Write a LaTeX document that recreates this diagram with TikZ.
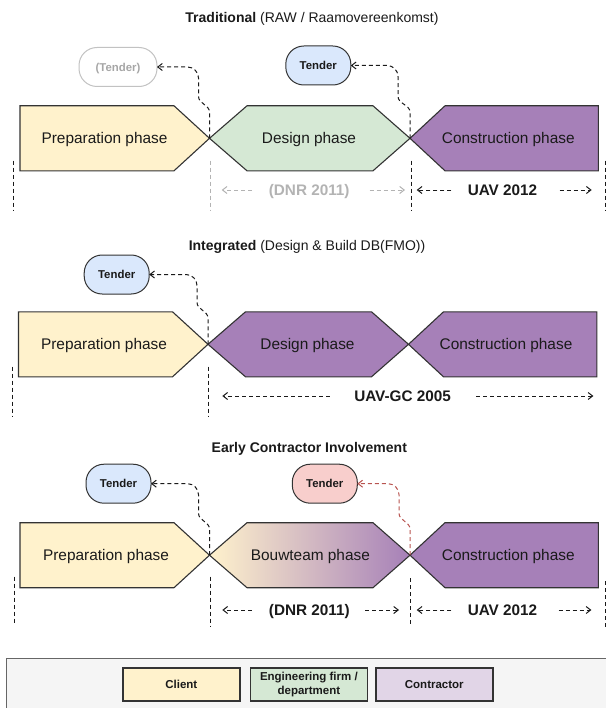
\documentclass[tikz,border=0pt]{standalone}
\usepackage{fontspec}
\setmainfont{Liberation Sans}
\usetikzlibrary{arrows.meta,calc}

\definecolor{clientY}{HTML}{FFF2CC}
\definecolor{engG}{HTML}{D5E8D4}
\definecolor{conP}{HTML}{A680B8}
\definecolor{conL}{HTML}{E1D5E7}
\definecolor{tendB}{HTML}{DAE8FC}
\definecolor{tendR}{HTML}{F8CECC}
\definecolor{edgeC}{HTML}{333333}
\definecolor{inkC}{HTML}{1A1A1A}
\definecolor{fadeC}{HTML}{B3B3B3}
\definecolor{fadeT}{HTML}{A6A6A6}
\definecolor{redL}{HTML}{B85450}
\definecolor{legBg}{HTML}{F5F5F5}
\definecolor{legLn}{HTML}{666666}

\begin{document}
\begin{tikzpicture}[x=1bp, y=-1bp,
  every node/.style={inner sep=0pt, outer sep=0pt},
  phase/.style={draw=edgeC, line width=1.1bp, line join=miter},
  phlabel/.style={font=\fontsize{15.4bp}{18bp}\selectfont, text=inkC, text height=11bp, text depth=0pt},
  heading/.style={font=\fontsize{14bp}{17bp}\selectfont, text=inkC, text height=10bp, text depth=0pt},
  tenderbox/.style={draw=edgeC, line width=1bp, rounded corners=18bp, minimum width=65bp, minimum height=39bp,
    font=\bfseries\fontsize{11.4bp}{13bp}\selectfont, text=inkC, text height=8.2bp, text depth=0pt},
  contract/.style={font=\bfseries\fontsize{15.3bp}{18bp}\selectfont, text=inkC, text height=11bp, text depth=0pt},
  divider/.style={draw=inkC, line width=1bp, dash pattern=on 4bp off 3bp},
  spanarrow/.style={draw=inkC, line width=1bp, dash pattern=on 4bp off 3bp, -{Straight Barb[length=4.5bp,width=7bp]}},
  tenderlink/.style={draw=inkC, line width=1bp, dash pattern=on 4bp off 3bp, -{Straight Barb[length=4.5bp,width=7bp]}},
  legendbox/.style={draw=edgeC, line width=1.4bp, minimum width=117bp, minimum height=33bp,
    font=\bfseries\fontsize{11.5bp}{14.5bp}\selectfont, text=inkC, align=center},
]
\useasboundingbox (0,0) rectangle (606,708);
\clip (0,0) rectangle (606,708);

% ---------------- Traditional ----------------
\node[heading] (h1) at (312,17.3) {\textbf{Traditional} (RAW / Raamovereenkomst)};
\begin{scope}[shift={(0,138.3)}]
  \path[phase, fill=clientY] (20,-32.5) -- (174,-32.5) -- (209.5,0) -- (174,32.5) -- (20,32.5) -- cycle;
  \path[phase, fill=engG] (209.5,0) -- (247,-32.5) -- (373,-32.5) -- (410,0) -- (373,32.5) -- (247,32.5) -- cycle;
  \path[phase, fill=conP] (410,0) -- (445,-32.5) -- (598.4,-32.5) -- (598.4,32.5) -- (445,32.5) -- cycle;
  \node[phlabel] (p1) at (104.5,0) {Preparation phase};
  \node[phlabel] (d1) at (309,0) {Design phase};
  \node[phlabel] (c1) at (508.3,0) {Construction phase};
  \coordinate (J1a) at (209.5,0);
  \coordinate (J1b) at (410,0);
  \draw[divider] (13.5,22.4) -- (13.5,71.7);
  \draw[divider, draw=fadeC] (210,22.4) -- (210,71.7);
  \draw[divider] (411,22.4) -- (411,71.7);
  \draw[divider] (605.5,22.4) -- (605.5,71.7);
\end{scope}

\node[tenderbox, draw=fadeC!80, text=fadeT, minimum width=78bp] (T1a) at (118,67) {(Tender)};
\node[tenderbox, fill=tendB] (T1b) at (318.3,65.5) {Tender};
\draw[tenderlink] (J1a) -- ++(0,-26) to[out=90,in=-90] ++(-11,-16) [rounded corners=11bp] |- (T1a.east);
\draw[tenderlink] (J1b) -- ++(0,-26) to[out=90,in=-90] ++(-12,-16) [rounded corners=11bp] |- (T1b.east);

\node[contract, text=fadeC] (dnr1) at (309.2,190) {(DNR 2011)};
\coordinate (dnr1L) at (221.7,190);
\coordinate (dnr1R) at (405,190);
\draw[spanarrow, draw=fadeC] ([xshift=-16.6bp]dnr1.west) -- (dnr1L);
\draw[spanarrow, draw=fadeC] ([xshift=20bp]dnr1.east) -- (dnr1R);
\node[contract] (uav1) at (502.5,190) {UAV 2012};
\coordinate (uav1L) at (416.7,190);
\coordinate (uav1R) at (591.7,190);
\draw[spanarrow] ([xshift=-16.3bp]uav1.west) -- (uav1L);
\draw[spanarrow] ([xshift=22.3bp]uav1.east) -- (uav1R);

% ---------------- Integrated ----------------
\node[heading] (h2) at (307,245) {\textbf{Integrated} (Design \& Build DB(FMO))};
\begin{scope}[shift={(-1.5,344.3)}]
  \path[phase, fill=clientY] (20,-32.5) -- (174,-32.5) -- (209.5,0) -- (174,32.5) -- (20,32.5) -- cycle;
  \path[phase, fill=conP] (209.5,0) -- (247,-32.5) -- (373,-32.5) -- (410,0) -- (373,32.5) -- (247,32.5) -- cycle;
  \path[phase, fill=conP] (410,0) -- (445,-32.5) -- (598.4,-32.5) -- (598.4,32.5) -- (445,32.5) -- cycle;
  \node[phlabel] (p2) at (105.5,0) {Preparation phase};
  \node[phlabel] (d2) at (309,0) {Design phase};
  \node[phlabel] (c2) at (507.5,0) {Construction phase};
  \coordinate (J2a) at (209.5,0);
  \draw[divider] (13.9,22.4) -- (13.9,71.5);
  \draw[divider] (210.2,22.4) -- (210.2,72);
\end{scope}

\node[tenderbox, fill=tendB] (T2a) at (116.7,274.5) {Tender};
\draw[tenderlink] (J2a) -- ++(0,-26) to[out=90,in=-90] ++(-11,-16) [rounded corners=11bp] |- (T2a.east);

\node[contract] (gc2) at (402.6,396) {UAV-GC 2005};
\coordinate (gc2L) at (222.3,396);
\coordinate (gc2R) at (593.4,396);
\draw[spanarrow] ([xshift=-24.4bp]gc2.west) -- (gc2L);
\draw[spanarrow] ([xshift=25.2bp]gc2.east) -- (gc2R);

% ---------------- Early Contractor Involvement ----------------
\node[heading] (h3) at (309.3,447.3) {\textbf{Early Contractor Involvement}};
\begin{scope}[shift={(0,555.2)}]
  \path[phase, fill=clientY] (20,-32.5) -- (174,-32.5) -- (209.5,0) -- (174,32.5) -- (20,32.5) -- cycle;
  \path[phase, left color=clientY, right color=conP] (209.5,0) -- (247,-32.5) -- (373,-32.5) -- (410,0) -- (373,32.5) -- (247,32.5) -- cycle;
  \path[phase, fill=conP] (410,0) -- (445,-32.5) -- (598.4,-32.5) -- (598.4,32.5) -- (445,32.5) -- cycle;
  \node[phlabel] (p3) at (106,0) {Preparation phase};
  \node[phlabel] (b3) at (310.4,0) {Bouwteam phase};
  \node[phlabel] (c3) at (508.3,0) {Construction phase};
  \coordinate (J3a) at (209.5,0);
  \coordinate (J3b) at (410,0);
  \draw[divider] (14.7,21.5) -- (14.7,70);
  \draw[divider] (210.5,21.5) -- (210.5,71.5);
  \draw[divider] (410,22.8) -- (410,71.5);
  \draw[divider] (605.5,26) -- (605.5,71.5);
\end{scope}

\node[tenderbox, fill=tendB] (T3a) at (118.5,483.7) {Tender};
\node[tenderbox, fill=tendR] (T3b) at (324.8,483.7) {Tender};
\draw[tenderlink] (J3a) -- ++(0,-26) to[out=90,in=-90] ++(-11,-16) [rounded corners=11bp] |- (T3a.east);
\draw[tenderlink, draw=redL] (J3b) -- ++(0,-26) to[out=90,in=-90] ++(-11,-16) [rounded corners=11bp] |- (T3b.east);

\node[contract] (dnr3) at (309.3,610) {(DNR 2011)};
\coordinate (dnr3L) at (222.3,610);
\coordinate (dnr3R) at (399,610);
\draw[spanarrow] ([xshift=-17.4bp]dnr3.west) -- (dnr3L);
\draw[spanarrow] ([xshift=15.5bp]dnr3.east) -- (dnr3R);
\node[contract] (uav3) at (502.5,610) {UAV 2012};
\coordinate (uav3L) at (416.7,610);
\coordinate (uav3R) at (591.4,610);
\draw[spanarrow] ([xshift=-16.3bp]uav3.west) -- (uav3L);
\draw[spanarrow] ([xshift=21.3bp]uav3.east) -- (uav3R);

% ---------------- Legend ----------------
\path[fill=legBg, draw=legLn, line width=1bp] (6,658) rectangle (640,740);
\node[legendbox, fill=clientY] (lgClient) at (181.3,684.3) {Client};
\node[legendbox, fill=engG] (lgEng) at (308.9,684.3) {Engineering firm /\\department};
\node[legendbox, fill=conL] (lgCon) at (434.3,684.3) {Contractor};
\end{tikzpicture}
\end{document}
